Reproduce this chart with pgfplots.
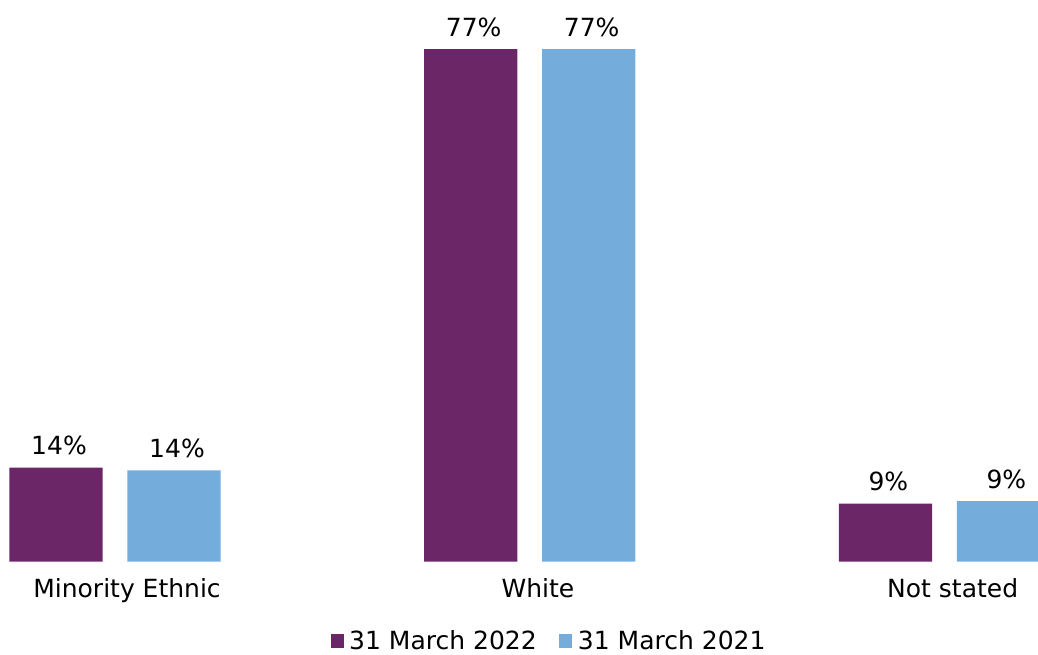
\documentclass[border=0pt]{standalone}
\usepackage{pgfplots}
\pgfplotsset{compat=1.18}
\usepackage{fontspec}
\setmainfont{DejaVu Sans}
\definecolor{cpurple}{RGB}{107,38,103}
\definecolor{cblue}{RGB}{116,173,220}
\newcommand{\cfont}{\fontsize{12.5}{15}\selectfont}
\begin{document}
\begin{tikzpicture}
\begin{axis}[
  name=ax,
  scale only axis,
  width=519pt, height=280.85pt,
  xmin=-0.2773, xmax=2.2257,
  ymin=0, ymax=84.40,
  axis line style={draw=none},
  tick style={draw=none},
  major tick length=0pt,
  ytick=\empty,
  xtick={0.029,1.02,2.02},
  xticklabels={Minority Ethnic,White,Not stated},
  xticklabel style={font=\cfont, anchor=base, inner sep=0pt, yshift=-18pt},
  /pgf/number format/assume math mode=true,
  nodes near coords={\pgfmathprintnumber[fixed,precision=0]{\pgfplotspointmeta}\%},
  every node near coord/.append style={font=\cfont, anchor=base, inner sep=0pt, yshift=6.5pt, xshift=1.5pt},
  legend columns=2,
  legend style={at={(0.5306,-0.1412)}, anchor=center, draw=none, fill=none,
    font=\cfont, /tikz/every even column/.append style={column sep=8.5pt},
    nodes={inner xsep=2.75pt}},
  legend image code/.code={\fill[#1] (0pt,-3.3pt) rectangle (6.6pt,3.3pt);},
]
\addplot[ybar, bar width=0.225, bar shift=0pt, fill=cpurple, draw=none]
  coordinates {(-0.1423,14.12) (0.8577,77) (1.8577,8.72)};
\addlegendentry{31 March 2022}
\addplot[ybar, bar width=0.225, bar shift=0pt, fill=cblue, draw=none]
  coordinates {(0.1423,13.73) (1.1423,77) (2.1423,9.12)};
\addlegendentry{31 March 2021}
\end{axis}
\pgfresetboundingbox
\path[use as bounding box] (ax.south west) ++(0,-46.15pt) rectangle (ax.north east);
\end{tikzpicture}
\end{document}
